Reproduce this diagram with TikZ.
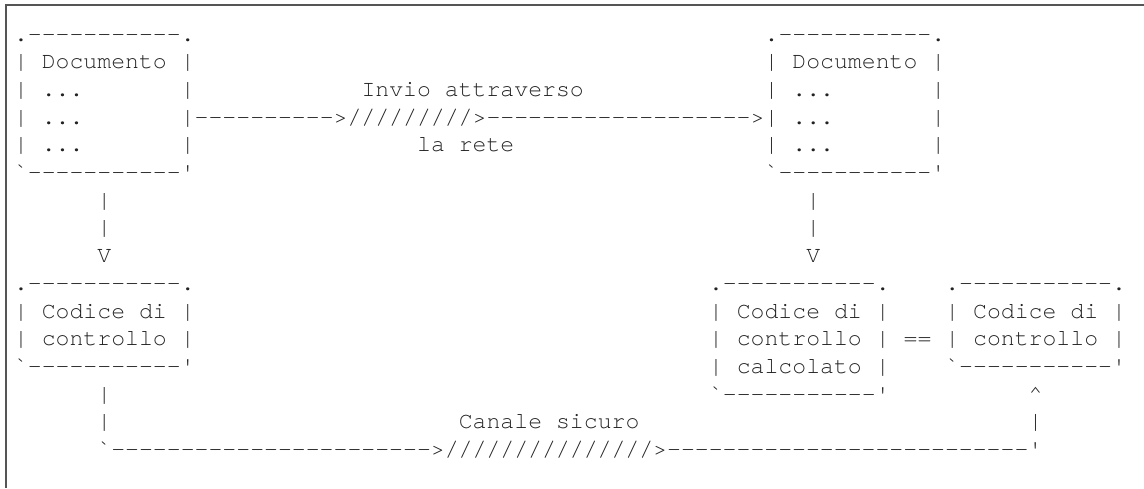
\documentclass[tikz,border=0pt]{standalone}
\usepackage{fontspec}
\setmonofont{texgyrecursor-regular.otf}
\usepackage{tikz}
\definecolor{ink}{HTML}{222222}
\definecolor{framegray}{HTML}{555555}
\tikzset{
  asc/.style={anchor=base west, inner sep=0pt, outer sep=0pt, text=ink,
    font=\ttfamily\frenchspacing\fontsize{11.58pt}{13.85pt}\selectfont},
}

\begin{document}
\begin{tikzpicture}
    \useasboundingbox (0,0) rectangle (572pt,-244pt);
    \draw[framegray, line width=0.8pt] (3pt,-244pt) -- (3pt,-2.5pt) -- (572pt,-2.5pt);
    \begin{scope}[shift={(7pt,-20.5pt)}, x=6.95pt, y=-13.85pt]
        % documento inviato e ricevuto
        \node[asc] (srcTop) at (0,0) {.-----------.};
        \node[asc] (dstTop) at (54,0) {.-----------.};
        \node[asc] (srcTitle) at (0,1) {|~Documento~|};
        \node[asc] (dstTitle) at (54,1) {|~Documento~|};
        \node[asc] (srcLineA) at (0,2) {|~...~~~~~~~|};
        \node[asc] (sendTop) at (25,2) {Invio attraverso};
        \node[asc] (dstLineA) at (54,2) {|~...~~~~~~~|};
        \node[asc] (srcLineB) at (0,3) {|~...~~~~~~~|};
        \node[asc] (sendArrow) at (13,3) {---------->/////////>------------------->};
        \node[asc] (dstLineB) at (54,3) {|~...~~~~~~~|};
        \node[asc] (srcLineC) at (0,4) {|~...~~~~~~~|};
        \node[asc] (sendBottom) at (29,4) {la rete};
        \node[asc] (dstLineC) at (54,4) {|~...~~~~~~~|};
        \node[asc] (srcBottom) at (0,5) {`-----------'};
        \node[asc] (dstBottom) at (54,5) {`-----------'};
        % frecce verso il basso
        \foreach \r in {6,7} {
            \node[asc] (srcBar\r) at (6,\r) {|};
            \node[asc] (dstBar\r) at (57,\r) {|};
        }
        \node[asc] (srcHead) at (6,8) {V};
        \node[asc] (dstHead) at (57,8) {V};
        % codici di controllo
        \node[asc] (chkTop) at (0,9) {.-----------.};
        \node[asc] (calcTop) at (50,9) {.-----------.};
        \node[asc] (recvTop) at (67,9) {.-----------.};
        \node[asc] (chkLineA) at (0,10) {|~Codice di~|};
        \node[asc] (calcLineA) at (50,10) {|~Codice di~|};
        \node[asc] (recvLineA) at (67,10) {|~Codice di~|};
        \node[asc] (chkLineB) at (0,11) {|~controllo~|};
        \node[asc] (calcLineB) at (50,11) {|~controllo~|};
        \node[asc] (equal) at (64,11) {==};
        \node[asc] (recvLineB) at (67,11) {|~controllo~|};
        \node[asc] (chkBottom) at (0,12) {`-----------'};
        \node[asc] (calcLineC) at (50,12) {|~calcolato~|};
        \node[asc] (recvBottom) at (67,12) {`-----------'};
        \node[asc] (calcBottom) at (50,13) {`-----------'};
        % canale sicuro
        \node[asc] (chanBar13) at (6,13) {|};
        \node[asc] (chanHead) at (73,13) {\textasciicircum};
        \node[asc] (chanBar14) at (6,14) {|};
        \node[asc] (chanLabel) at (32,14) {Canale sicuro};
        \node[asc] (chanUp14) at (73,14) {|};
        \node[asc] (chanLine) at (6,15) {`----------------------->///////////////>--------------------------'};
    \end{scope}
\end{tikzpicture}
\end{document}
